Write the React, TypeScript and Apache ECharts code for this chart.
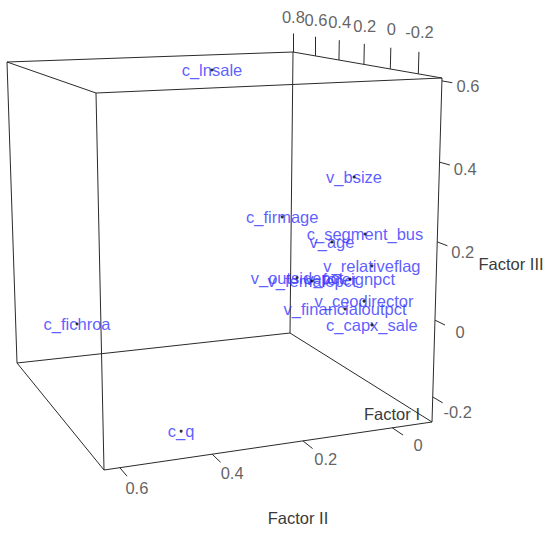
import React, { useEffect, useRef } from "react";
import * as echarts from "echarts";

// ---- data: factor loadings ----
const variables = [
  "c_lnsale", "v_bsize", "c_firmage", "c_segment_bus", "v_age", "v_relativeflag",
  "v_outsidepct", "v_femalepct", "v_foreignpct", "v_ceodirector", "v_financialoutpct",
  "c_capx_sale", "c_fichroa", "c_q",
];
const factorI = [0.213, 0.26, 0.488, 0.164, 0.433, 0.105, 0.739, 0.526, 0.276, 0.161, 0.313, 0.095, -0.075, -0.119];
const factorII = [0.262, -0.09, 0.021, -0.09, -0.09, -0.09, -0.09, -0.068, -0.09, -0.09, -0.09, -0.09, 0.634, 0.414];
const factorIII = [0.607, 0.292, 0.158, 0.145, 0.082, 0.065, -0.078, -0.048, -0.001, -0.044, -0.095, -0.099, 0.027, -0.266];

// axis limits and ticks
const rangeI = [-0.36, 0.8];
const rangeII = [-0.09, 0.634];
const rangeIII = [-0.266, 0.607];
const ticksI = [0.8, 0.6, 0.4, 0.2, 0, -0.2];
const ticksII = [0.6, 0.4, 0.2, 0];
const ticksIII = [-0.2, 0, 0.2, 0.4, 0.6];
const axisTitles = ["Factor I", "Factor II", "Factor III"];

// ---- view (layout): screen position of box corners + perspective strength ----
const C = {
  flb: [104, 470], frb: [432, 422], blb: [17, 363], brb: [290, 333],
  flt: [96, 93], frt: [442, 78], blt: [7, 62], brt: [293, 52],
};
const PERSP = { u: 1.03, v: 1.18, w: 0.96 };

const warp = (t: number, a: number) => (a * t) / (1 + (a - 1) * t);
const lerp = (a: number[], b: number[], t: number) => [a[0] + (b[0] - a[0]) * t, a[1] + (b[1] - a[1]) * t];

function projN(u: number, v: number, w: number) {
  const fb = lerp(C.flb, C.frb, u);
  const bb = lerp(C.blb, C.brb, u);
  const ft = lerp(C.flt, C.frt, u);
  const bt = lerp(C.blt, C.brt, u);
  const bot = lerp(fb, bb, v);
  const top = lerp(ft, bt, v);
  return lerp(bot, top, w);
}
const nI = (f: number) => warp((f - rangeI[0]) / (rangeI[1] - rangeI[0]), PERSP.v);
const nII = (f: number) => warp((rangeII[1] - f) / (rangeII[1] - rangeII[0]), PERSP.u);
const nIII = (f: number) => warp((f - rangeIII[0]) / (rangeIII[1] - rangeIII[0]), PERSP.w);
const project = (fi: number, fii: number, fiii: number) => projN(nII(fii), nI(fi), nIII(fiii));

export default function App() {
  const ref = useRef<HTMLDivElement>(null);
  useEffect(() => {
    if (!ref.current) return;
    const chart = echarts.init(ref.current, undefined, { renderer: "svg" });

    // box edges
    const segs: number[][][] = [];
    const corners = [0, 1];
    for (const a of corners) for (const b of corners) {
      segs.push([projN(0, a, b), projN(1, a, b)]);
      segs.push([projN(a, 0, b), projN(a, 1, b)]);
      segs.push([projN(a, b, 0), projN(a, b, 1)]);
    }
    // ticks
    const tickLabels: any[] = [];
    ticksI.forEach((t) => {
      const v = nI(t);
      segs.push([projN(1, v, 1), projN(1, v, 1.066)]);
      tickLabels.push({ value: projN(1, v, 1.125), name: String(t) });
    });
    ticksII.forEach((t) => {
      const u = nII(t);
      segs.push([projN(u, 0, 0), projN(u, -0.08, 0)]);
      tickLabels.push({ value: projN(u, -0.19, 0), name: String(t) });
    });
    ticksIII.forEach((t) => {
      const w = nIII(t);
      segs.push([projN(1, 0, w), projN(1, -0.07, w)]);
      tickLabels.push({ value: projN(1, -0.175, w), name: String(t) });
    });

    const pts = variables.map((name, i) => ({ value: project(factorI[i], factorII[i], factorIII[i]), name }));
    const font = "'Liberation Sans', Arial, sans-serif";
    const hidden = { color: "rgba(0,0,0,0)" };

    chart.setOption({
      animation: false,
      backgroundColor: "#ffffff",
      grid: { left: 0, right: 0, top: 0, bottom: 0 },
      xAxis: { type: "value", min: 0, max: 550, show: false },
      yAxis: { type: "value", min: 0, max: 535, inverse: true, show: false },
      series: [
        {
          type: "lines",
          coordinateSystem: "cartesian2d",
          silent: true,
          lineStyle: { color: "#2a2a2a", width: 1, opacity: 1 },
          data: segs.map((s) => ({ coords: s })),
          z: 1,
        },
        {
          type: "scatter",
          silent: true,
          symbolSize: 1,
          itemStyle: hidden,
          data: tickLabels,
          label: {
            show: true, position: "inside", formatter: "{b}",
            color: "#3a3a3a", fontSize: 16.5, fontFamily: font,
          },
          labelLayout: { hideOverlap: false },
          z: 2,
        },
        {
          type: "scatter",
          silent: true,
          symbolSize: 1,
          itemStyle: hidden,
          data: pts,
          label: {
            show: true, position: "inside", formatter: "{b}",
            color: "#3434ff", fontSize: 16.5, fontFamily: font,
          },
          labelLayout: { hideOverlap: false },
          z: 3,
        },
        {
          type: "scatter",
          silent: true,
          symbol: "circle",
          symbolSize: 3,
          itemStyle: { color: "#000000" },
          data: pts,
          z: 4,
        },
      ],
      graphic: [
        { type: "text", x: 392, y: 414, style: { text: axisTitles[0], fill: "#3a3a3a", font: `16.5px ${font}`, align: "center", verticalAlign: "middle" } },
        { type: "text", x: 298, y: 518, style: { text: axisTitles[1], fill: "#3a3a3a", font: `16.5px ${font}`, align: "center", verticalAlign: "middle" } },
        { type: "text", x: 511, y: 264, style: { text: axisTitles[2], fill: "#3a3a3a", font: `16.5px ${font}`, align: "center", verticalAlign: "middle" } },
      ],
    });
    return () => chart.dispose();
  }, []);
  return (
    <div
      ref={ref}
      style={{ position: "fixed", left: 0, top: 0, width: 550, height: 535, background: "#fff" }}
    />
  );
}
